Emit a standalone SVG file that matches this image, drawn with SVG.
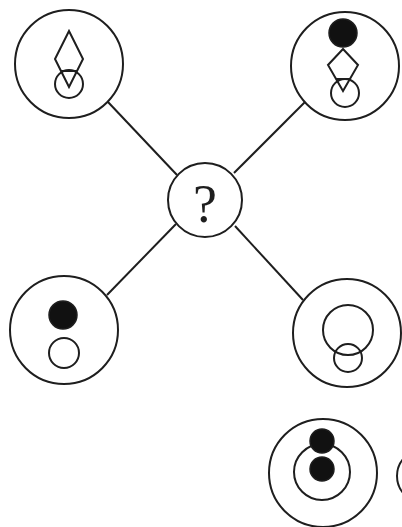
<svg xmlns="http://www.w3.org/2000/svg" width="402" height="527" viewBox="0 0 402 527">
<style>
.o{fill:none;stroke:#1e1e1e;stroke-width:2}
.f{fill:#111;stroke:#1e1e1e;stroke-width:1.5}
.w{fill:#fff;stroke:#1e1e1e;stroke-width:2}
.c{stroke:#1e1e1e;stroke-width:2;fill:none}
</style>
<rect width="402" height="527" fill="#fff"/>
<g id="connectors">
<line class="c" x1="108" y1="102" x2="177" y2="175"/>
<line class="c" x1="305" y1="102" x2="234" y2="173"/>
<line class="c" x1="107" y1="295" x2="176" y2="224"/>
<line class="c" x1="303" y1="300" x2="235" y2="226"/>
</g>
<g id="center">
<circle class="w" cx="205" cy="200" r="37"/>
<text x="205" y="222" text-anchor="middle" font-family="Liberation Serif, serif" font-size="54" fill="#1e1e1e">?</text>
</g>
<g id="top-left">
<circle class="w" cx="69" cy="64" r="54"/>
<circle class="o" cx="69" cy="84" r="14"/>
<polygon class="o" points="69,31 83,59 69,87 55,59"/>
<line class="o" x1="61" y1="71" x2="77" y2="71"/>
</g>
<g id="top-right">
<circle class="w" cx="345" cy="66" r="54"/>
<circle class="f" cx="343" cy="33" r="14"/>
<circle class="o" cx="345" cy="93" r="14"/>
<polygon class="o" points="343,49 358,65 343,91 328,65"/>
<line class="o" x1="336" y1="79" x2="350" y2="79"/>
</g>
<g id="bottom-left">
<circle class="w" cx="64" cy="330" r="54"/>
<circle class="f" cx="63" cy="315" r="14"/>
<circle class="o" cx="64" cy="353" r="15"/>
</g>
<g id="bottom-right">
<circle class="w" cx="347" cy="333" r="54"/>
<circle class="o" cx="348" cy="330" r="25"/>
<circle class="o" cx="348" cy="358" r="14"/>
</g>
<g id="option">
<circle class="o" cx="323" cy="473" r="54"/>
<circle class="o" cx="322" cy="472" r="28"/>
<circle class="f" cx="322" cy="441" r="12"/>
<circle class="f" cx="322" cy="469" r="12"/>
<circle class="o" cx="424" cy="476" r="27"/>
</g>
</svg>
